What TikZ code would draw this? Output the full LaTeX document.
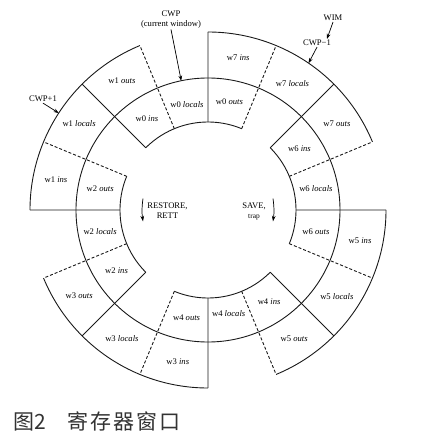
\documentclass[tikz,border=0pt]{standalone}
\usepackage{fontspec}
\setmainfont{Liberation Serif}
\newfontfamily\cjkfont{Noto Sans CJK SC}
\usetikzlibrary{arrows.meta, positioning}

\begin{document}
\begin{tikzpicture}[
    x=1pt, y=1pt,
    font=\fontsize{8.6}{10}\selectfont,
    ring/.style={draw=black!90, line width=0.9pt},
    split/.style={draw=black!90, line width=0.9pt, dash pattern=on 3pt off 2pt},
    reg/.style={inner sep=0pt},
    tag/.style={align=center, inner sep=1pt},
    pointer/.style={-{Stealth[length=1.8mm, width=1.3mm]}, line width=0.7pt},
    turn/.style={-{Stealth[length=2mm, width=1.3mm]}, line width=0.7pt}
]
\useasboundingbox (-208,-232) rectangle (214,210);

% --- middle circle, shared by both rings ---
\draw[ring] (0,0) circle[radius=132pt];

% --- inner ring: windows w0, w2, w4, w6 ---
\draw[ring] (67.5:88)  arc[start angle=67.5,  end angle=135,   radius=88pt];
\draw[ring] (157.5:88) arc[start angle=157.5, end angle=225,   radius=88pt];
\draw[ring] (247.5:88) arc[start angle=247.5, end angle=315,   radius=88pt];
\draw[ring] (-22.5:88) arc[start angle=-22.5, end angle=45,    radius=88pt];

% --- outer ring: windows w1, w3, w5, w7 ---
\draw[ring] (112.5:178) arc[start angle=112.5, end angle=180,  radius=178pt];
\draw[ring] (202.5:178) arc[start angle=202.5, end angle=270,  radius=178pt];
\draw[ring] (-67.5:178) arc[start angle=-67.5, end angle=0,    radius=178pt];
\draw[ring] (22.5:178)  arc[start angle=22.5,  end angle=90,   radius=178pt];

% --- window edges (solid) and register set edges (dashed) ---
\draw[ring] (0:88) -- (0:178)   (45:88) -- (45:178)   (90:88) -- (90:178)
            (135:88) -- (135:178) (180:88) -- (180:178) (225:88) -- (225:178)
            (270:88) -- (270:178) (315:88) -- (315:178);
\draw[split] (22.5:88) -- (22.5:178)   (67.5:88) -- (67.5:178)
             (112.5:88) -- (112.5:178) (157.5:88) -- (157.5:178)
             (202.5:88) -- (202.5:178) (247.5:88) -- (247.5:178)
             (292.5:88) -- (292.5:178) (337.5:88) -- (337.5:178);

% --- inner ring labels ---
\node[reg] (w0out) at (78.75:110)  {w0 \textit{outs}};
\node[reg] (w0loc) at (101.25:108) {w0 \textit{locals}};
\node[reg] (w0in)  at (123.75:110) {w0 \textit{ins}};
\node[reg] (w2out) at (168.75:110) {w2 \textit{outs}};
\node[reg] (w2loc) at (191.25:110) {w2 \textit{locals}};
\node[reg] (w2in)  at (213.75:110) {w2 \textit{ins}};
\node[reg] (w4out) at (258.75:110) {w4 \textit{outs}};
\node[reg] (w4loc) at (281.25:106) {w4 \textit{locals}};
\node[reg] (w4in)  at (303.75:110) {w4 \textit{ins}};
\node[reg] (w6out) at (348.75:110) {w6 \textit{outs}};
\node[reg] (w6loc) at (11.25:110)  {w6 \textit{locals}};
\node[reg] (w6in)  at (33.75:110)  {w6 \textit{ins}};

% --- outer ring labels ---
\node[reg] (w1out) at (123.75:155) {w1 \textit{outs}};
\node[reg] (w1loc) at (146.25:155) {w1 \textit{locals}};
\node[reg] (w1in)  at (168.75:155) {w1 \textit{ins}};
\node[reg] (w3out) at (213.75:155) {w3 \textit{outs}};
\node[reg] (w3loc) at (236.25:155) {w3 \textit{locals}};
\node[reg] (w3in)  at (258.75:155) {w3 \textit{ins}};
\node[reg] (w5out) at (303.75:155) {w5 \textit{outs}};
\node[reg] (w5loc) at (326.25:155) {w5 \textit{locals}};
\node[reg] (w5in)  at (348.75:155) {w5 \textit{ins}};
\node[reg] (w7out) at (33.75:155)  {w7 \textit{outs}};
\node[reg] (w7loc) at (56.25:152)  {w7 \textit{locals}};
\node[reg] (w7in)  at (78.75:155)  {w7 \textit{ins}};

% --- pointers into the rings ---
\node[tag] (cwp) at (-37,190.5) {CWP\\(current window)};
\coordinate (cwptip) at (101.7:132);
\draw[pointer] (cwp.south) -- (cwptip);

\node[tag] (cwpnext) at (-165,111) {CWP+1};
\coordinate (nexttip) at (147:178);
\draw[pointer] (cwpnext.south) -- (nexttip);

\node[tag] (wim) at (125,192) {WIM};
\node[tag] (cwpprev) at (109,167) {CWP−1};
\coordinate (prevtip) at (55.6:178);
\draw[pointer] (wim.south) -- ([xshift=10pt]cwpprev.north);
\draw[pointer] (cwpprev.south) -- (prevtip);

% --- rotation direction in the middle ---
\coordinate (rstop) at (170:66);
\coordinate (rsbot) at (190:66);
\draw[turn] (rstop) to[bend right=8] (rsbot);
\node[tag] (restore) at (-40.5,-1) {RESTORE,\\RETT};

\coordinate (svtop) at (10:66);
\coordinate (svbot) at (-10:66);
\draw[turn] (svtop) to[bend left=8] (svbot);
\node[tag] (save) at (46,-1) {SAVE,\\{\fontsize{7.4}{8}\selectfont trap}};

% --- caption ---
\node[anchor=west, inner sep=0pt, text=black!80,
      font=\cjkfont\fontsize{21}{24}\selectfont] (caption) at (-195,-211)
  {图2\hspace{22pt}寄\hspace{2pt}存\hspace{2pt}器\hspace{2pt}窗\hspace{2pt}口};

\end{tikzpicture}
\end{document}
